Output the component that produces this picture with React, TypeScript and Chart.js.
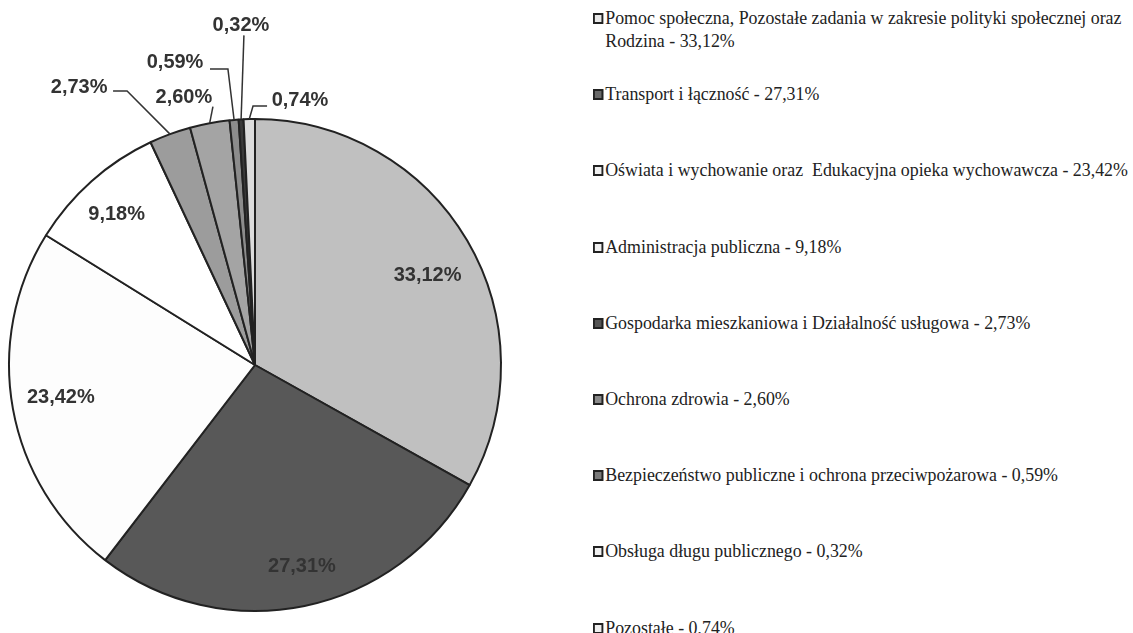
import React, { useEffect, useRef } from "react";
import { Chart, ArcElement, PieController } from "chart.js";

Chart.register(ArcElement, PieController);

const categories: string[] = [
  "Pomoc społeczna, Pozostałe zadania w zakresie polityki społecznej oraz Rodzina",
  "Transport i łączność",
  "Oświata i wychowanie oraz\u00a0 Edukacyjna opieka wychowawcza",
  "Administracja publiczna",
  "Gospodarka mieszkaniowa i Działalność usługowa",
  "Ochrona zdrowia",
  "Bezpieczeństwo publiczne i ochrona przeciwpożarowa",
  "Obsługa długu publicznego",
  "Pozostałe",
];

const shares: number[] = [33.12, 27.31, 23.42, 9.18, 2.73, 2.6, 0.59, 0.32, 0.74];

const valueLabels: string[] = shares.map((v) => v.toFixed(2).replace(".", ",") + "%");

const sliceColors: string[] = [
  "#c0c0c0",
  "#585858",
  "#fdfdfd",
  "#ffffff",
  "#9c9c9c",
  "#a4a4a4",
  "#8c8c8c",
  "#3a3a3a",
  "#dcdcdc",
];

const legendBoxFill: string[] = [
  "#e8e8e8",
  "#6a6a6a",
  "#f0f0f0",
  "#f0f0f0",
  "#555555",
  "#8a8a8a",
  "#7a7a7a",
  "#f0f0f0",
  "#eeeeee",
];

type Placement =
  | { kind: "inside"; f: number; dAng: number }
  | { kind: "leader"; text: [number, number]; path: [number, number][] };

// label placement (style), in units of the pie radius relative to its centre
const placements: Placement[] = [
  { kind: "inside", f: 0.79, dAng: 3 },
  { kind: "inside", f: 0.84, dAng: -1.5 },
  { kind: "inside", f: 0.8, dAng: 0.9 },
  { kind: "inside", f: 0.83, dAng: -1 },
  { kind: "leader", text: [-0.715, -1.13], path: [[-0.52, -1.114], [-0.577, -1.114]] },
  { kind: "leader", text: [-0.289, -1.089], path: [[-0.171, -1.05]] },
  { kind: "leader", text: [-0.325, -1.228], path: [[-0.11, -1.203], [-0.183, -1.203]] },
  { kind: "leader", text: [-0.057, -1.382], path: [[-0.045, -1.34]] },
  { kind: "leader", text: [0.183, -1.077], path: [[-0.008, -1.053], [0.049, -1.053]] },
];

const labelPlugin = {
  id: "sliceLabels",
  afterDatasetsDraw(chart: any) {
    const ctx: CanvasRenderingContext2D = chart.ctx;
    const meta = chart.getDatasetMeta(0);
    ctx.save();
    ctx.font = "bold 20px 'Liberation Sans', Arial, sans-serif";
    ctx.fillStyle = "#333333";
    ctx.textAlign = "center";
    ctx.textBaseline = "middle";
    meta.data.forEach((arc: any, i: number) => {
      const { x, y, startAngle, endAngle, outerRadius } = arc.getProps(
        ["x", "y", "startAngle", "endAngle", "outerRadius"],
        true
      );
      const mid = (startAngle + endAngle) / 2;
      const p = placements[i];
      const R = outerRadius;
      if (p.kind === "inside") {
        const a = mid + (p.dAng * Math.PI) / 180;
        ctx.fillText(valueLabels[i], x + Math.cos(a) * R * p.f, y + Math.sin(a) * R * p.f);
      } else {
        ctx.strokeStyle = "#333333";
        ctx.lineWidth = 1.5;
        ctx.beginPath();
        ctx.moveTo(x + Math.cos(mid) * R, y + Math.sin(mid) * R);
        p.path.forEach(([px, py]) => ctx.lineTo(x + px * R, y + py * R));
        ctx.stroke();
        ctx.fillText(valueLabels[i], x + p.text[0] * R, y + p.text[1] * R);
      }
    });
    ctx.restore();
  },
};

export default function App() {
  const canvasRef = useRef<HTMLCanvasElement | null>(null);

  useEffect(() => {
    if (!canvasRef.current) return;
    const chart = new Chart(canvasRef.current, {
      type: "pie",
      data: {
        labels: categories,
        datasets: [
          {
            data: shares,
            backgroundColor: sliceColors,
            borderColor: "#222222",
            borderWidth: 2,
          },
        ],
      },
      options: {
        responsive: false,
        animation: false,
        devicePixelRatio: 1,
        layout: { padding: { left: 8, top: 118, right: 18, bottom: 21 } },
        plugins: {
          legend: { display: false },
          tooltip: { enabled: false },
        },
      },
      plugins: [labelPlugin],
    });
    return () => chart.destroy();
  }, []);

  return (
    <div
      style={{
        position: "absolute",
        left: 0,
        top: 0,
        width: 1133,
        height: 633,
        background: "#ffffff",
        overflow: "hidden",
      }}
    >
      <canvas
        ref={canvasRef}
        width={520}
        height={633}
        style={{ position: "absolute", left: 0, top: 0, width: 520, height: 633 }}
      />
      {categories.map((c, i) => (
        <div
          key={i}
          style={{
            position: "absolute",
            left: 593,
            top: 6 + i * 76.2,
            fontFamily: "'Liberation Serif', 'Times New Roman', serif",
            fontSize: 19,
            lineHeight: "23px",
            color: "#222222",
            transform: "scaleX(0.94)",
            transformOrigin: "0 0",
            display: "flex",
            alignItems: "flex-start",
          }}
        >
          <span
            style={{
              display: "inline-block",
              width: 7,
              height: 7,
              border: "2px solid #222222",
              background: legendBoxFill[i],
              marginTop: 7,
              marginRight: 2,
              flex: "none",
            }}
          />
          <span style={{ width: 612, whiteSpace: i === 0 ? "normal" : "nowrap" }}>
            {c} - {valueLabels[i]}
          </span>
        </div>
      ))}
    </div>
  );
}
